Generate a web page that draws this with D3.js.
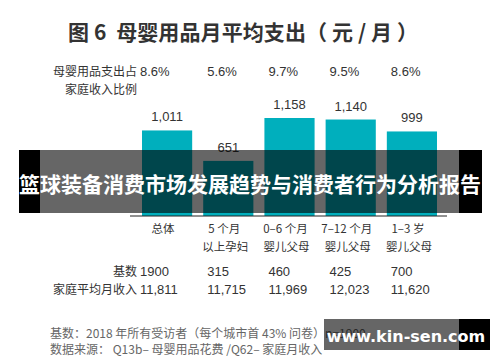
<!DOCTYPE html>
<html>
<head>
<meta charset="utf-8">
<script src="https://cdn.jsdelivr.net/npm/d3@7"></script>
<style>
  html, body { margin: 0; padding: 0; background: #fff; }
  svg { display: block; font-family: "Liberation Sans", "Noto Sans CJK SC", sans-serif; }
  text { white-space: pre; }
</style>
</head>
<body>
<div id="chart"></div>
<script>
const categories = ["总体", "5个月以上孕妇", "0–6个月婴儿父母", "7–12个月婴儿父母", "1–3岁婴儿父母"];
const catLine1 = ["总体", "5 个月", "0–6 个月", "7–12 个月", "1–3 岁"];
const catLine2 = ["", "以上孕妇", "婴儿父母", "婴儿父母", "婴儿父母"];
const spending = [1011, 651, 1158, 1140, 999];
const shareOfIncome = ["8.6%", "5.6%", "9.7%", "9.5%", "8.6%"];
const baseCount = ["1900", "315", "460", "425", "700"];
const avgIncome = ["11,811", "11,715", "11,969", "12,023", "11,620"];

const width = 500, height = 362;
const svg = d3.select("#chart").append("svg")
  .attr("width", width).attr("height", height);

const cjk = "'Noto Sans CJK SC', sans-serif";
const latin = "'Liberation Sans', 'Noto Sans CJK SC', sans-serif";

// title
svg.append("text")
  .attr("x", 68).attr("y", 40)
  .attr("font-family", cjk)
  .attr("font-weight", "bold")
  .attr("font-size", 21)
  .attr("fill", "#333")
  .attr("textLength", 350)
  .attr("lengthAdjust", "spacing")
  .text("图 6  母婴用品月平均支出（ 元 / 月 ）");

const x = d3.scaleBand().domain(categories).range([142 - 11 / 2, 437 + 11 / 2]).paddingInner(11 / 61).paddingOuter(0.09);
const y = d3.scaleLinear().domain([0, 1158]).range([216, 118]);

// bars
svg.append("g").selectAll("rect")
  .data(spending)
  .join("rect")
  .attr("x", (d, i) => x(categories[i]))
  .attr("y", d => y(d))
  .attr("width", x.bandwidth())
  .attr("height", d => y(0) - y(d))
  .attr("fill", "#00afbd");

// value labels
svg.append("g").selectAll("text")
  .data(spending)
  .join("text")
  .attr("x", (d, i) => x(categories[i]) + x.bandwidth() / 2)
  .attr("y", d => y(d) - 9)
  .attr("text-anchor", "middle")
  .attr("font-family", latin)
  .attr("font-size", 13)
  .attr("fill", "#333")
  .text(d => d3.format(",")(d));

// baseline
svg.append("line")
  .attr("x1", 130).attr("x2", 447)
  .attr("y1", y(0)).attr("y2", y(0))
  .attr("stroke", "#222").attr("stroke-width", 1);

// left-aligned value rows (first column hugs its label)
const colX = i => i === 0 ? x(categories[i]) - 2 : x(categories[i]) + 4;

function tableRow(labels, values, yy) {
  labels.forEach((lab, k) => {
    svg.append("text").attr("x", 137).attr("y", yy + k * 18).attr("text-anchor", "end")
      .attr("font-family", cjk).attr("font-size", 12).attr("fill", "#333").text(lab);
  });
  svg.append("g").selectAll("text")
    .data(values)
    .join("text")
    .attr("x", (d, i) => colX(i))
    .attr("y", yy)
    .attr("font-family", latin)
    .attr("font-size", 13)
    .attr("fill", "#333")
    .text(d => d);
}
tableRow(["母婴用品支出占", "家庭收入比例"], shareOfIncome, 76);

// category labels
const catG = svg.append("g");
catG.selectAll("text.l1")
  .data(catLine1)
  .join("text")
  .attr("class", "l1")
  .attr("x", (d, i) => x(categories[i]) + x.bandwidth() / 2 - 4)
  .attr("y", 233)
  .attr("text-anchor", "middle")
  .attr("font-family", cjk)
  .attr("font-size", 11.5)
  .attr("fill", "#333")
  .text(d => d);
catG.selectAll("text.l2")
  .data(catLine2)
  .join("text")
  .attr("class", "l2")
  .attr("x", (d, i) => x(categories[i]) + x.bandwidth() / 2 - 3)
  .attr("y", 251)
  .attr("text-anchor", "middle")
  .attr("font-family", cjk)
  .attr("font-size", 11.5)
  .attr("fill", "#333")
  .text(d => d);

tableRow(["基数"], baseCount, 276);
tableRow(["家庭平均月收入"], avgIncome, 294);

// footnotes
svg.append("text").attr("x", 50).attr("y", 338)
  .attr("font-family", cjk).attr("font-size", 12).attr("fill", "#666")
  .text("基数：2018 年所有受访者（每个城市首 43% 问卷）n=1900");
svg.append("text").attr("x", 50).attr("y", 354)
  .attr("font-family", cjk).attr("font-size", 12).attr("fill", "#666")
  .text("数据来源： Q13b– 母婴用品花费 /Q62– 家庭月收入");

// banner overlay
svg.append("rect").attr("x", 19).attr("y", 150).attr("width", 21).attr("height", 63).attr("fill", "#000");
svg.append("rect").attr("x", 459).attr("y", 150).attr("width", 23).attr("height", 63).attr("fill", "#000");
svg.append("rect").attr("x", 40).attr("y", 150).attr("width", 419).attr("height", 63).attr("fill", "#000").attr("fill-opacity", 0.6);
svg.append("text")
  .attr("x", 250).attr("y", 192)
  .attr("text-anchor", "middle")
  .attr("font-family", cjk)
  .attr("font-weight", "bold")
  .attr("font-size", 21)
  .attr("fill", "#fff")
  .text("篮球装备消费市场发展趋势与消费者行为分析报告");

// watermark
svg.append("rect").attr("x", 324).attr("y", 319).attr("width", 135).attr("height", 31).attr("fill", "#000").attr("fill-opacity", 0.6);
svg.append("rect").attr("x", 459).attr("y", 319).attr("width", 31).attr("height", 31).attr("fill", "#000");
svg.append("text")
  .attr("x", 406).attr("y", 342)
  .attr("text-anchor", "middle")
  .attr("font-family", "'DejaVu Sans', sans-serif")
  .attr("font-weight", "bold")
  .attr("font-size", 16)
  .attr("fill", "#fff")
  .text("www.kin-sen.com");
</script>
</body>
</html>
